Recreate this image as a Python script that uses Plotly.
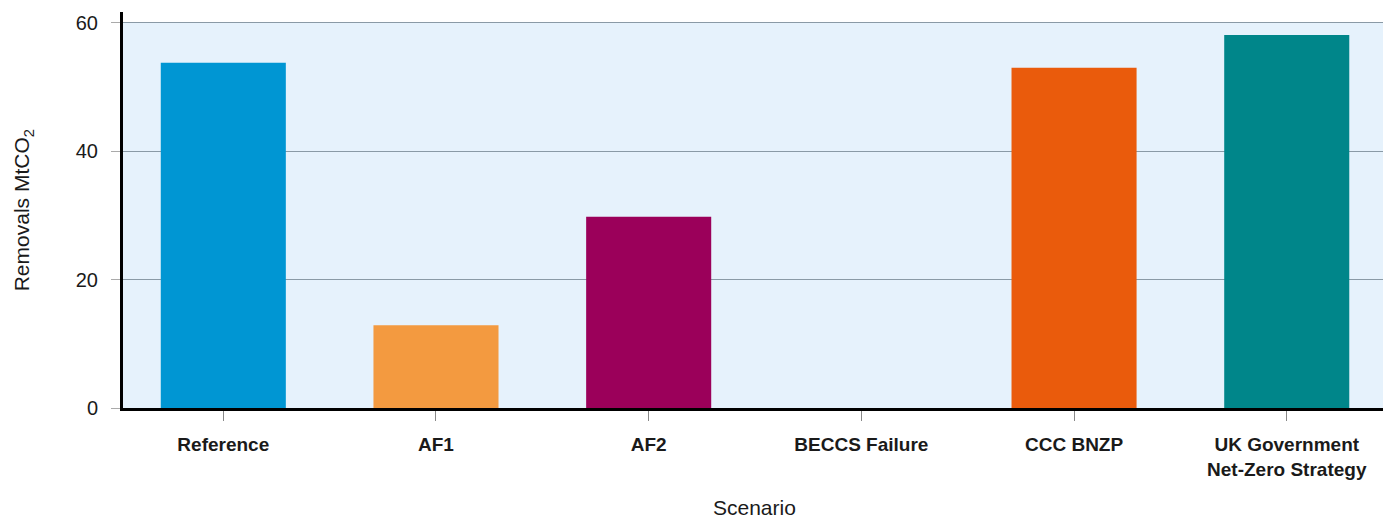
import plotly.graph_objects as go

scenarios = ["Reference", "AF1", "AF2", "BECCS Failure", "CCC BNZP", "UK Government<br>Net-Zero Strategy"]
removals = [53.8, 12.9, 29.8, 0, 53.0, 58.1]
colors = ["#0096D3", "#F39A40", "#9B005A", "#888888", "#EA5B0C", "#00868A"]

FONT = "Liberation Sans, Arial, sans-serif"

fig = go.Figure(go.Bar(x=scenarios, y=removals, marker=dict(color=colors, line=dict(width=0)), width=0.588))

fig.add_shape(type="rect", xref="paper", x0=0, x1=1, yref="y", y0=0, y1=60,
              fillcolor="#E6F2FC", line=dict(width=0), layer="below")

fig.update_layout(
    width=1383, height=509,
    margin=dict(l=115, r=6, t=4, b=109, autoexpand=False),
    plot_bgcolor="white", paper_bgcolor="white",
    font=dict(family=FONT, color="#111111"),
    showlegend=False,
    xaxis=dict(
        automargin=False,
        range=[-0.4716, 5.462],
        tickfont=dict(size=19, weight=700, color="#1a1a1a"),
        ticks="outside", ticklen=10, tickcolor="#888888", tickwidth=1,
        ticklabelstandoff=7,
        showline=True, linecolor="black", linewidth=3,
        showgrid=False,
    ),
    yaxis=dict(
        automargin=False,
        range=[0, 61.7], tickvals=[0, 20, 40, 60],
        tickfont=dict(size=20, color="#1a1a1a"),
        ticks="outside", ticklen=9, tickcolor="#AAAAAA", tickwidth=1,
        ticklabelstandoff=9,
        showline=True, linecolor="black", linewidth=3,
        showgrid=True, gridcolor="#8A9AA6", gridwidth=1, zeroline=False,
    ),
    annotations=[
        dict(text="Scenario", xref="paper", yref="paper", x=0.5, y=-0.25,
             xanchor="center", yanchor="middle", showarrow=False,
             font=dict(size=21, family=FONT, color="#1a1a1a")),
        dict(text="Removals MtCO<sub>2</sub>", xref="paper", yref="paper", x=-0.079, y=0.5,
             xanchor="center", yanchor="middle", showarrow=False, textangle=-90,
             font=dict(size=21, family=FONT, color="#1a1a1a")),
    ],
)

fig.write_html("out.html")
